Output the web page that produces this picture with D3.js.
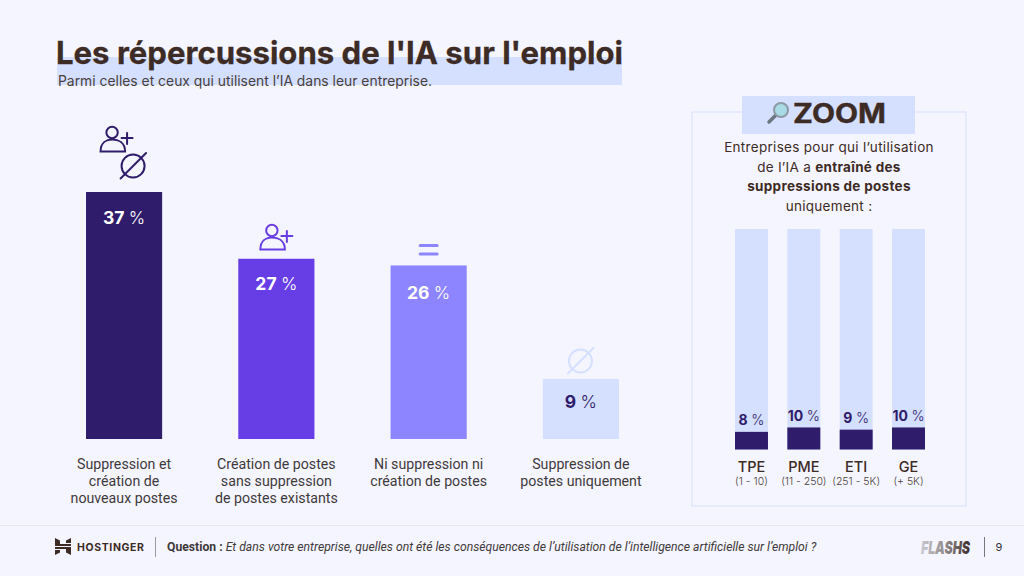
<!DOCTYPE html>
<html lang="fr">
<head>
<meta charset="utf-8">
<script src="https://cdn.jsdelivr.net/npm/d3@7"></script>
<style>
  html, body { margin: 0; padding: 0; background: #f5f5ff; }
  svg { display: block; }
  text { font-family: Inter, sans-serif; }
  .cat { font-family: Roboto, sans-serif; font-size: 14.2px; fill: #3f3a3c; text-anchor: middle; }
</style>
</head>
<body>
<svg id="chart" width="1024" height="576"></svg>
<script>
const categories = ['suppCrea', 'crea', 'ni', 'supp'];
const values = [37, 27, 26, 9];
const barColors = ['#2f1c6a', '#673de6', '#8c85ff', '#d5dfff'];
const labelColors = ['#fff', '#fff', '#fff', '#2f1c6a'];
const catLabels = [
  ['Suppression et', 'création de', 'nouveaux postes'],
  ['Création de postes', 'sans suppression', 'de postes existants'],
  ['Ni suppression ni', 'création de postes'],
  ['Suppression de', 'postes uniquement']
];
const sizes = ['TPE', 'PME', 'ETI', 'GE'];
const sizeRanges = ['(1 - 10)', '(11 - 250)', '(251 - 5K)', '(+ 5K)'];
const zoomValues = [8, 10, 9, 10];
const zoomText = [
  [['Entreprises pour qui l’utilisation', 400]],
  [['de l’IA a ', 400], ['entraîné des', 700]],
  [['suppressions de postes', 700]],
  [['uniquement :', 400]]
];

const brown = '#3d2b26';
const svg = d3.select('#chart');

// title block
svg.append('rect').attr('x', 57).attr('y', 57).attr('width', 565).attr('height', 28).attr('fill', '#d5dfff');
svg.append('text').attr('x', 56).attr('y', 64).attr('font-size', 31.5).attr('font-weight', 700)
  .attr('fill', brown).attr('stroke', brown).attr('stroke-width', 0.3)
  .attr('textLength', 567).attr('lengthAdjust', 'spacingAndGlyphs')
  .text("Les répercussions de l'IA sur l'emploi");
svg.append('text').attr('x', 58).attr('y', 86).attr('font-size', 14).attr('fill', '#4a3f3c')
  .attr('textLength', 374).attr('lengthAdjust', 'spacingAndGlyphs')
  .text('Parmi celles et ceux qui utilisent l’IA dans leur entreprise.');

// main bars
const x = d3.scaleBand().domain(categories).range([86, 619]).paddingInner(0.5);
const y = d3.scaleLinear().domain([0, 37]).range([439, 192]);

svg.append('g').selectAll('rect').data(categories).join('rect')
  .attr('x', d => x(d))
  .attr('y', (d, i) => y(values[i]))
  .attr('width', x.bandwidth())
  .attr('height', (d, i) => y(0) - y(values[i]))
  .attr('fill', (d, i) => barColors[i]);

function pctLabel(g, px, py, val, color, size) {
  const t = g.append('text').attr('x', px).attr('y', py).attr('text-anchor', 'middle')
    .attr('font-size', size).attr('fill', color);
  t.append('tspan').attr('font-weight', 700).text(val);
  t.append('tspan').attr('font-weight', 300).attr('dx', size * 0.25).text('%');
}

const labelDrop = [32, 31, 34, 29]; // the labels do not sit evenly under the bar tops
categories.forEach((c, i) => {
  const cx = x(c) + x.bandwidth() / 2;
  pctLabel(svg, cx, y(values[i]) + labelDrop[i], values[i], labelColors[i], 17.5);
  const t = svg.append('text').attr('class', 'cat');
  catLabels[i].forEach((line, k) => {
    t.append('tspan').attr('x', cx).attr('y', 469 + k * 16.8).text(line);
  });
});

// icons above the bars
function personPlus(cx, cy, color) {
  const g = svg.append('g').attr('transform', `translate(${cx},${cy})`)
    .attr('fill', 'none').attr('stroke', color).attr('stroke-width', 2).attr('stroke-linecap', 'round');
  g.append('circle').attr('cx', -4).attr('cy', -6.5).attr('r', 5.7);
  g.append('path').attr('d', 'M-15.5,12.5 C-15.5,3 -9,0.5 -4,0.5 C2,0.5 9,3 9,12.5 Z');
  g.append('path').attr('d', 'M5.5,-1 H16.5 M11,-6 V5');
}
function emptySet(cx, cy, color) {
  const g = svg.append('g').attr('transform', `translate(${cx},${cy})`)
    .attr('fill', 'none').attr('stroke', color).attr('stroke-width', 2).attr('stroke-linecap', 'round');
  g.append('circle').attr('r', 11.5);
  g.append('path').attr('d', 'M-12.5,12.5 L13,-13');
}
const cxOf = i => x(categories[i]) + x.bandwidth() / 2;
personPlus(cxOf(0) - 8, 139, barColors[0]);
emptySet(cxOf(0) + 9, 166, barColors[0]);
personPlus(cxOf(1) - 0.5, 237, barColors[1]);
svg.append('path').attr('d', `M${cxOf(2) - 8.5},245.5 h17 M${cxOf(2) - 8.5},254 h17`)
  .attr('stroke', barColors[2]).attr('stroke-width', 3).attr('stroke-linecap', 'round');
emptySet(cxOf(3) - 0.5, 361, barColors[3]);

// zoom panel
svg.append('rect').attr('x', 692).attr('y', 112).attr('width', 274).attr('height', 394)
  .attr('fill', 'none').attr('stroke', '#d5dfff').attr('stroke-width', 1);
svg.append('rect').attr('x', 742).attr('y', 96).attr('width', 173).attr('height', 38).attr('fill', '#d5dfff');
const lens = svg.append('g');
lens.append('path').attr('d', 'M769,122 L776,115').attr('stroke', '#6b7680').attr('stroke-width', 3.5).attr('stroke-linecap', 'round');
lens.append('circle').attr('cx', 781).attr('cy', 110).attr('r', 7).attr('fill', '#a9dbe6').attr('stroke', '#8d9aa3').attr('stroke-width', 2);
svg.append('text').attr('x', 793).attr('y', 123).attr('font-size', 27).attr('font-weight', 700)
  .attr('fill', brown).attr('stroke', brown).attr('stroke-width', 0.4)
  .attr('textLength', 93).attr('lengthAdjust', 'spacingAndGlyphs').text('ZOOM');

zoomText.forEach((parts, k) => {
  const t = svg.append('text').attr('x', 829).attr('y', 152 + k * 19.7).attr('text-anchor', 'middle')
    .attr('font-size', 13.5).attr('letter-spacing', 0.3).attr('fill', brown);
  parts.forEach(([s, w]) => t.append('tspan').attr('font-weight', w).text(s));
});

const zx = d3.scaleBand().domain(sizes).range([735, 925]).paddingInner(0.37);
const zy = d3.scaleLinear().domain([0, 100]).range([449.5, 229]);

svg.append('g').selectAll('rect').data(sizes).join('rect')
  .attr('x', d => zx(d)).attr('y', zy(100))
  .attr('width', zx.bandwidth()).attr('height', zy(0) - zy(100))
  .attr('fill', '#d5dfff');
svg.append('g').selectAll('rect').data(sizes).join('rect')
  .attr('x', d => zx(d)).attr('y', (d, i) => zy(zoomValues[i]))
  .attr('width', zx.bandwidth()).attr('height', (d, i) => zy(0) - zy(zoomValues[i]))
  .attr('fill', '#2f1c6a');

sizes.forEach((s, i) => {
  const cx = zx(s) + zx.bandwidth() / 2;
  pctLabel(svg, cx, zy(zoomValues[i]) - 6.5, zoomValues[i], '#2f1c6a', 14);
  svg.append('text').attr('x', cx).attr('y', 472).attr('text-anchor', 'middle')
    .attr('font-size', 14.5).attr('font-weight', 500).attr('fill', brown).text(s);
  svg.append('text').attr('x', cx).attr('y', 485).attr('text-anchor', 'middle')
    .attr('font-size', 10.5).attr('font-weight', 300).attr('fill', '#4a3f3c').text(sizeRanges[i]);
});

// footer
svg.append('line').attr('x1', 0).attr('x2', 1024).attr('y1', 525.5).attr('y2', 525.5).attr('stroke', '#e6e6ef');
svg.append('path').attr('fill', brown)
  .attr('d', 'M55,538 L60,540.5 V544 H71 V546 H55 Z M66,540.5 L71,538 V543 H66 Z M71,555 L66,552.5 V549 H55 V547 H71 Z M60,552.5 L55,555 V550 H60 Z');
svg.append('text').attr('x', 77).attr('y', 551).attr('font-size', 10.5).attr('font-weight', 700)
  .attr('fill', brown).attr('textLength', 67).text('HOSTINGER');
svg.append('line').attr('x1', 155.5).attr('x2', 155.5).attr('y1', 537).attr('y2', 557).attr('stroke', '#9a9a9f');
const q = svg.append('text').attr('x', 167).attr('y', 551).attr('font-size', 12.2)
  .attr('fill', '#3f3a3c').style('font-family', 'Roboto, sans-serif');
q.append('tspan').attr('font-weight', 700).text('Question : ');
q.append('tspan').attr('font-style', 'italic')
  .text('Et dans votre entreprise, quelles ont été les conséquences de l’utilisation de l’intelligence artificielle sur l’emploi ?');

const grad = svg.append('defs').append('linearGradient').attr('id', 'flash');
grad.append('stop').attr('offset', '0%').attr('stop-color', '#c9c9cf');
grad.append('stop').attr('offset', '55%').attr('stop-color', '#8a817f');
grad.append('stop').attr('offset', '100%').attr('stop-color', brown);
svg.append('text').attr('x', 921).attr('y', 554).attr('font-size', 18).attr('font-weight', 900)
  .attr('font-style', 'italic').attr('fill', 'url(#flash)')
  .attr('textLength', 49).attr('lengthAdjust', 'spacingAndGlyphs').text('FLASHS');
svg.append('line').attr('x1', 984.5).attr('x2', 984.5).attr('y1', 537).attr('y2', 557).attr('stroke', '#77777c');
svg.append('text').attr('x', 999).attr('y', 551).attr('text-anchor', 'middle').attr('font-size', 11)
  .attr('fill', '#333').text('9');
</script>
</body>
</html>
